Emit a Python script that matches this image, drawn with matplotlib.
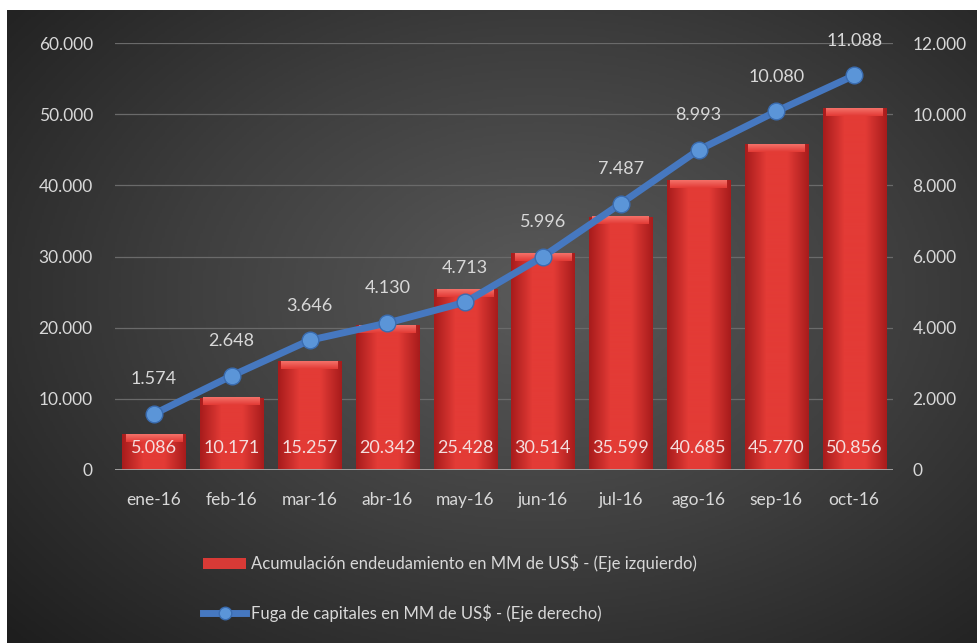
import numpy as np
import matplotlib
matplotlib.use('Agg')
import matplotlib.pyplot as plt
from matplotlib.colors import LinearSegmentedColormap
from matplotlib.patches import Patch
from matplotlib.lines import Line2D

plt.rcParams['font.family'] = ['Lato', 'DejaVu Sans']

meses = ['ene-16', 'feb-16', 'mar-16', 'abr-16', 'may-16', 'jun-16',
         'jul-16', 'ago-16', 'sep-16', 'oct-16']
endeudamiento = [5086, 10171, 15257, 20342, 25428, 30514, 35599, 40685, 45770, 50856]
fuga = [1574, 2648, 3646, 4130, 4713, 5996, 7487, 8993, 10080, 11088]

lbl_barras = 'Acumulación endeudamiento en MM de US$ - (Eje izquierdo)'
lbl_linea = 'Fuga de capitales en MM de US$ - (Eje derecho)'

def miles(v):
    return f'{int(round(v)):,}'.replace(',', '.')

txt = '#d8d8d8'

fig = plt.figure(figsize=(9.78, 6.43), dpi=100, facecolor='white')

# fondo oscuro con degradado radial
bg = fig.add_axes([7/978, 0, 971/978, 633/643])
yy, xx = np.mgrid[0:1:300j, 0:1:450j]
r = np.sqrt(((xx - 0.55) / 0.75) ** 2 + ((yy - 0.55) / 0.8) ** 2)
cmap_bg = LinearSegmentedColormap.from_list('bg', ['#5a5a5a', '#3e3e3e', '#1e1e1e'])
bg.imshow(np.clip(r, 0, 1), cmap=cmap_bg, aspect='auto', extent=[0, 1, 0, 1], origin='lower')
bg.set_axis_off()

ax = fig.add_axes([115/978, 173/643, 778/978, 427/643])
ax.patch.set_alpha(0)
x = np.arange(len(meses))

bars = ax.bar(x, endeudamiento, width=0.81, color='#d03030', zorder=2)
cmap_bar = LinearSegmentedColormap.from_list('bar', ['#a81c1c', '#e33b36', '#e33b36', '#a81c1c'])
cmap_top = LinearSegmentedColormap.from_list('top', ['#e33b36', '#f47068'])
grad = np.linspace(0, 1, 64).reshape(1, -1)
vgrad = np.linspace(0, 1, 16).reshape(-1, 1)
for b in bars:
    x0, w, h = b.get_x(), b.get_width(), b.get_height()
    im = ax.imshow(grad, cmap=cmap_bar, aspect='auto', extent=[x0, x0 + w, 0, h],
                   zorder=2.1)
    im.set_clip_path(b)
    # franja superior con brillo
    ax.imshow(vgrad, cmap=cmap_top, aspect='auto', origin='lower',
              extent=[x0 + 0.04, x0 + w - 0.04, h - 1100, h], zorder=2.2)

for xi, v in zip(x, endeudamiento):
    ax.annotate(miles(v), (xi, 0), xytext=(0, 16), textcoords='offset points',
                ha='center', va='center', fontsize=13, color='#f4dede', zorder=5)

ax.set_xlim(-0.5, len(meses) - 0.5)
ax.set_ylim(0, 60000)
ax.set_yticks(np.arange(0, 60001, 10000))
ax.set_yticklabels([miles(v) for v in np.arange(0, 60001, 10000)])
ax.set_xticks(x)
ax.set_xticklabels(meses)
ax.tick_params(axis='both', length=0, colors=txt, labelsize=12.5)
ax.tick_params(axis='x', pad=16)
ax.tick_params(axis='y', pad=16)
ax.grid(axis='y', color='#6a6a6a', lw=0.9, zorder=0)
ax.set_axisbelow(True)
for s in ax.spines.values():
    s.set_visible(False)
ax.axhline(0, color='#a8a8a8', lw=2, zorder=3)

ax2 = ax.twinx()
ax2.plot(x, fuga, color='#4678c0', lw=5, marker='o', markersize=12,
         markerfacecolor='#5b95d8', markeredgecolor='#3a6cb0', markeredgewidth=1, zorder=4)
ax2.set_ylim(0, 12000)
ax2.set_yticks(np.arange(0, 12001, 2000))
ax2.set_yticklabels([miles(v) for v in np.arange(0, 12001, 2000)])
ax2.tick_params(axis='y', length=0, colors=txt, labelsize=12.5, pad=14)
for s in ax2.spines.values():
    s.set_visible(False)
for xi, v in zip(x, fuga):
    ax2.annotate(miles(v), (xi, v), xytext=(0, 25), textcoords='offset points',
                 ha='center', va='center', fontsize=13, color=txt)

handles = [Patch(facecolor='#d83a36', edgecolor='none'),
           Line2D([0], [0], color='#4678c0', lw=5, marker='o', markersize=9,
                  markerfacecolor='#5b95d8', markeredgecolor='#3a6cb0')]
fig.legend(handles, [lbl_barras, lbl_linea], loc='upper left',
           bbox_to_anchor=(203/978, 1 - 555/643), frameon=False, fontsize=12,
           labelcolor=txt, handlelength=2.6, handleheight=0.6, handletextpad=0.3,
           labelspacing=1.9, borderpad=0, borderaxespad=0)

fig.savefig('out.png', dpi=100, facecolor=fig.get_facecolor())
